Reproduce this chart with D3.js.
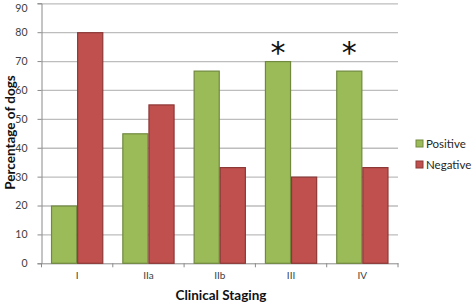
<!DOCTYPE html>
<html>
<head>
<meta charset="utf-8">
<script src="https://cdn.jsdelivr.net/npm/d3@7"></script>
<style>
  body { margin: 0; background: #fff; }
  svg text { font-family: Lato, "Open Sans", sans-serif; }
</style>
</head>
<body>
<div id="chart"></div>
<script>
// data
const stages = ["I", "IIa", "IIb", "III", "IV"];
const positive = [20, 45, 66.7, 70, 66.7];
const negative = [80, 55, 33.3, 30, 33.3];
const series = ["Positive", "Negative"];
const significant = ["III", "IV"];
const yTicks = [0, 10, 20, 30, 40, 50, 60, 70, 80, 90];

const colors = {Positive: "#9bbb59", Negative: "#c0504d"};
const strokes = {Positive: "#71893f", Negative: "#8c3836"};

const W = 472, H = 304;
const plot = {left: 41.5, right: 398, top: 3.3, bottom: 263.3};

const svg = d3.select("#chart").append("svg")
  .attr("width", W).attr("height", H);

const x = d3.scaleBand()
  .domain(stages)
  .range([plot.left, plot.right]);

const xInner = d3.scaleBand()
  .domain(series)
  .range([0, x.bandwidth()])
  .paddingInner(0)
  .paddingOuter(0.365);

const y = d3.scaleLinear()
  .domain([0, 90])
  .range([plot.bottom, plot.top]);

// gridlines
svg.append("g")
  .selectAll("line")
  .data(yTicks.slice(1))
  .enter().append("line")
    .attr("x1", plot.left).attr("x2", plot.right)
    .attr("y1", d => y(d) + 0.5).attr("y2", d => y(d) + 0.5)
    .attr("stroke", "#bdbdbd").attr("stroke-width", 1.3);

// y axis
const yAxis = svg.append("g")
  .attr("transform", "translate(" + plot.left + ",0)")
  .call(d3.axisLeft(y).tickValues(yTicks).tickSize(4).tickPadding(10));
yAxis.select(".domain").attr("stroke", "#8a8a8a");
yAxis.selectAll(".tick line").attr("stroke", "#8a8a8a");
yAxis.selectAll(".tick text")
  .attr("fill", "#404040").style("font-size", "10.5px");
// top label sits just inside the picture, as in the reference
yAxis.selectAll(".tick text").filter(d => d === 90).attr("dy", "0.75em");

// x axis
const xAxis = svg.append("g")
  .attr("transform", "translate(0," + plot.bottom + ")")
  .call(d3.axisBottom(x).tickSize(0).tickPadding(9));
xAxis.select(".domain").attr("stroke", "#8a8a8a");
xAxis.selectAll(".tick text")
  .attr("fill", "#404040").style("font-size", "10px");

// category boundary ticks
svg.append("g")
  .selectAll("line")
  .data(stages.concat(["end"]))
  .enter().append("line")
    .attr("x1", (d, i) => plot.left + i * x.step())
    .attr("x2", (d, i) => plot.left + i * x.step())
    .attr("y1", plot.bottom).attr("y2", plot.bottom + 4)
    .attr("stroke", "#8a8a8a");

// bars
const rows = stages.map((s, i) => ({stage: s, Positive: positive[i], Negative: negative[i]}));

const groups = svg.append("g")
  .selectAll("g")
  .data(rows)
  .enter().append("g")
    .attr("transform", d => "translate(" + x(d.stage) + ",0)");

groups.selectAll("rect")
  .data(d => series.map(k => ({key: k, value: d[k]})))
  .enter().append("rect")
    .attr("x", d => xInner(d.key) + 0.5)
    .attr("y", d => y(d.value) + 0.5)
    .attr("width", xInner.bandwidth() - 1)
    .attr("height", d => plot.bottom - y(d.value) - 0.5)
    .attr("fill", d => colors[d.key])
    .attr("stroke", d => strokes[d.key])
    .attr("stroke-width", 1.2);

// significance asterisks, both at the same level (~75%)
svg.append("g")
  .selectAll("text")
  .data(significant)
  .enter().append("text")
    .attr("x", d => x(d) + xInner("Positive") + xInner.bandwidth() / 2)
    .attr("y", y(69.5))
    .attr("text-anchor", "middle")
    .style("font-size", "30px")
    .style("font-family", "DejaVu Sans, sans-serif")
    .attr("fill", "#111")
    .text("*");

// legend
const legend = svg.append("g")
  .selectAll("g")
  .data(series)
  .enter().append("g")
    .attr("transform", (d, i) => "translate(416," + (140 + i * 21) + ")");

legend.append("rect")
  .attr("width", 7).attr("height", 7)
  .attr("fill", d => colors[d])
  .attr("stroke", d => strokes[d]);

legend.append("text")
  .attr("x", 10).attr("y", 7.8)
  .attr("fill", "#262626")
  .style("font-size", "11.5px")
  .text(d => d);

// axis titles
svg.append("text")
  .attr("x", 221)
  .attr("y", 300)
  .attr("text-anchor", "middle")
  .style("font-size", "13.5px").style("font-weight", "bold")
  .attr("fill", "#111")
  .text("Clinical Staging");

svg.append("text")
  .attr("transform", "translate(14.5,132.5) rotate(-90)")
  .attr("text-anchor", "middle")
  .style("font-size", "13.5px").style("font-weight", "bold")
  .attr("fill", "#111")
  .text("Percentage of dogs");
</script>
</body>
</html>
